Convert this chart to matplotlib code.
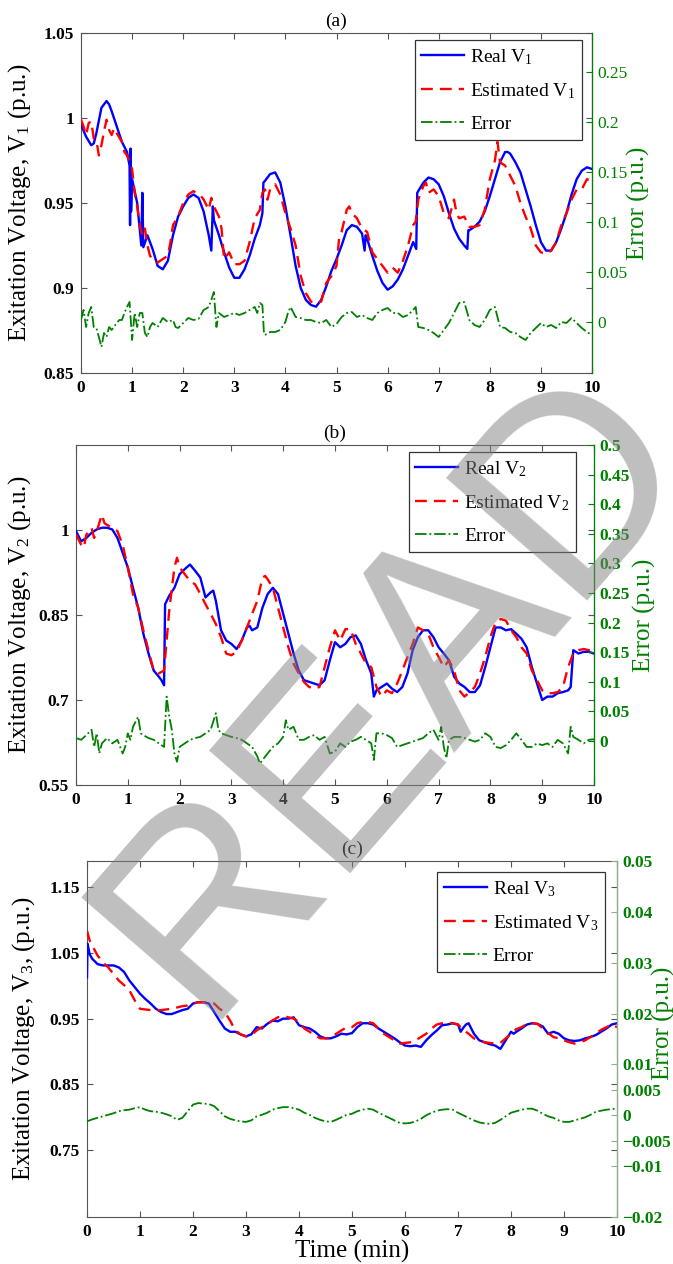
import numpy as np
import matplotlib
matplotlib.use('Agg')
import matplotlib.pyplot as plt
from matplotlib.ticker import FixedLocator, FixedFormatter

plt.rcParams['font.family'] = ['Liberation Serif', 'DejaVu Serif']
plt.rcParams['mathtext.fontset'] = 'custom'
plt.rcParams['mathtext.rm'] = 'Liberation Serif'
plt.rcParams['mathtext.it'] = 'Liberation Serif:italic'
plt.rcParams['mathtext.bf'] = 'Liberation Serif:bold'
plt.rcParams['mathtext.default'] = 'regular'

# ---------------- Panel (a) ----------------
t_real1 = [0, 0.1, 0.2, 0.25, 0.3, 0.4, 0.5, 0.55, 0.6, 0.7,
           0.8, 0.9, 0.95, 0.96, 0.97, 0.98, 1.0, 1.1, 1.18, 1.2,
           1.22, 1.3, 1.4, 1.5, 1.6, 1.7, 1.8, 1.9, 2.0, 2.1,
           2.2, 2.3, 2.4, 2.5, 2.55, 2.58, 2.6, 2.7, 2.8, 2.9,
           3.0, 3.1, 3.2, 3.3, 3.4, 3.5, 3.55, 3.57, 3.6, 3.7,
           3.8, 3.9, 4.0, 4.1, 4.2, 4.3, 4.4, 4.5, 4.6, 4.7,
           4.8, 4.9, 5.0, 5.1, 5.2, 5.3, 5.4, 5.5, 5.55, 5.57,
           5.6, 5.7, 5.8, 5.9, 6.0, 6.1, 6.2, 6.3, 6.4, 6.5,
           6.56, 6.58, 6.6, 6.7, 6.8, 6.9, 7.0, 7.1, 7.2, 7.3,
           7.4, 7.5, 7.56, 7.58, 7.6, 7.7, 7.8, 7.9, 8.0, 8.1,
           8.2, 8.3, 8.35, 8.4, 8.5, 8.6, 8.7, 8.8, 8.9, 9.0,
           9.1, 9.2, 9.3, 9.4, 9.5, 9.6, 9.7, 9.8, 9.9, 10.0]
v_real1 = [0.996, 0.989, 0.984, 0.985, 0.991, 1.006, 1.010, 1.008, 1.004, 0.995,
           0.986, 0.980, 0.972, 0.937, 0.982, 0.945, 0.964, 0.950, 0.925, 0.956,
           0.924, 0.931, 0.923, 0.913, 0.911, 0.916, 0.931, 0.942, 0.948, 0.953,
           0.955, 0.953, 0.945, 0.931, 0.922, 0.948, 0.940, 0.931, 0.921, 0.912,
           0.906, 0.906, 0.911, 0.919, 0.929, 0.937, 0.944, 0.962, 0.963, 0.967,
           0.968, 0.962, 0.948, 0.931, 0.913, 0.900, 0.893, 0.890, 0.889, 0.893,
           0.901, 0.910, 0.917, 0.925, 0.934, 0.937, 0.936, 0.932, 0.922, 0.931,
           0.929, 0.919, 0.910, 0.903, 0.899, 0.901, 0.905, 0.911, 0.919, 0.927,
           0.923, 0.956, 0.957, 0.962, 0.965, 0.964, 0.961, 0.954, 0.944, 0.935,
           0.929, 0.925, 0.923, 0.934, 0.934, 0.936, 0.939, 0.945, 0.954, 0.964,
           0.974, 0.980, 0.980, 0.979, 0.974, 0.968, 0.958, 0.948, 0.937, 0.927,
           0.922, 0.922, 0.927, 0.935, 0.944, 0.955, 0.964, 0.969, 0.971, 0.970]

t_est1 = [0, 0.05, 0.1, 0.15, 0.2, 0.25, 0.3, 0.35, 0.4, 0.45,
          0.5, 0.55, 0.6, 0.65, 0.7, 0.8, 0.85, 0.9, 1.0, 1.05,
          1.1, 1.15, 1.2, 1.25, 1.3, 1.35, 1.4, 1.5, 1.6, 1.7,
          1.75, 1.8, 1.9, 2.0, 2.1, 2.2, 2.3, 2.35, 2.4, 2.5,
          2.55, 2.6, 2.7, 2.75, 2.8, 2.9, 3.0, 3.1, 3.2, 3.3,
          3.4, 3.5, 3.55, 3.6, 3.65, 3.7, 3.8, 3.9, 4.0, 4.1,
          4.2, 4.3, 4.4, 4.5, 4.6, 4.7, 4.8, 4.9, 5.0, 5.05,
          5.1, 5.2, 5.25, 5.3, 5.4, 5.5, 5.6, 5.7, 5.8, 5.9,
          6.0, 6.1, 6.2, 6.3, 6.4, 6.5, 6.55, 6.6, 6.7, 6.75,
          6.8, 6.9, 7.0, 7.1, 7.2, 7.3, 7.35, 7.4, 7.5, 7.6,
          7.7, 7.8, 7.9, 8.0, 8.1, 8.15, 8.2, 8.3, 8.4, 8.5,
          8.6, 8.7, 8.8, 8.9, 9.0, 9.1, 9.2, 9.3, 9.4, 9.5,
          9.6, 9.7, 9.8, 9.9, 10.0]
v_est1 = [0.999, 0.995, 0.990, 0.997, 0.998, 0.988, 0.987, 0.978, 0.984, 0.992,
          0.999, 0.993, 0.990, 0.994, 0.991, 0.986, 0.980, 0.978, 0.970, 0.956,
          0.948, 0.937, 0.931, 0.935, 0.925, 0.919, 0.917, 0.915, 0.917, 0.919,
          0.927, 0.937, 0.942, 0.950, 0.955, 0.957, 0.955, 0.954, 0.952, 0.946,
          0.953, 0.948, 0.942, 0.935, 0.917, 0.921, 0.914, 0.914, 0.916, 0.927,
          0.941, 0.946, 0.956, 0.958, 0.952, 0.958, 0.961, 0.955, 0.944, 0.935,
          0.925, 0.907, 0.897, 0.892, 0.891, 0.892, 0.903, 0.907, 0.913, 0.929,
          0.933, 0.946, 0.948, 0.944, 0.941, 0.935, 0.933, 0.921, 0.917, 0.913,
          0.909, 0.912, 0.909, 0.916, 0.925, 0.937, 0.939, 0.952, 0.960, 0.962,
          0.956, 0.958, 0.954, 0.944, 0.941, 0.952, 0.944, 0.941, 0.942, 0.936,
          0.936, 0.937, 0.946, 0.964, 0.975, 0.986, 0.974, 0.972, 0.966, 0.960,
          0.950, 0.942, 0.935, 0.925, 0.921, 0.920, 0.922, 0.927, 0.937, 0.944,
          0.952, 0.958, 0.958, 0.964, 0.963]

t_err1 = [0, 0.05, 0.1, 0.15, 0.2, 0.25, 0.3, 0.35, 0.4, 0.45,
          0.5, 0.55, 0.6, 0.7, 0.75, 0.8, 0.85, 0.9, 0.95, 1.0,
          1.05, 1.1, 1.15, 1.2, 1.25, 1.3, 1.35, 1.4, 1.5, 1.6,
          1.7, 1.8, 1.85, 1.9, 2.0, 2.1, 2.2, 2.3, 2.4, 2.5,
          2.55, 2.6, 2.65, 2.7, 2.8, 2.9, 3.0, 3.1, 3.2, 3.3,
          3.4, 3.45, 3.5, 3.55, 3.58, 3.6, 3.7, 3.8, 3.9, 4.0,
          4.05, 4.1, 4.2, 4.3, 4.4, 4.5, 4.6, 4.7, 4.8, 4.9,
          5.0, 5.1, 5.2, 5.3, 5.4, 5.5, 5.6, 5.7, 5.8, 5.9,
          6.0, 6.1, 6.2, 6.3, 6.4, 6.5, 6.55, 6.6, 6.7, 6.8,
          6.9, 7.0, 7.1, 7.2, 7.3, 7.4, 7.5, 7.6, 7.7, 7.8,
          7.9, 8.0, 8.1, 8.2, 8.3, 8.4, 8.5, 8.6, 8.7, 8.8,
          8.9, 9.0, 9.1, 9.2, 9.3, 9.4, 9.5, 9.6, 9.7, 9.8,
          9.9, 10.0]
v_err1 = [0.002, 0.012, -0.005, 0.009, 0.015, -0.005, -0.006, -0.015, -0.025, -0.011,
          -0.015, -0.005, -0.008, -0.001, 0.002, 0.002, 0.009, 0.015, 0.020, -0.018,
          0.009, -0.005, 0.009, 0.009, -0.011, -0.015, -0.005, -0.001, -0.005, 0.004,
          0.000, 0.002, -0.005, -0.006, -0.001, 0.004, 0.002, 0.003, 0.012, 0.015,
          0.022, 0.030, -0.005, 0.009, 0.005, 0.007, 0.009, 0.007, 0.009, 0.012,
          0.015, 0.009, 0.019, 0.017, -0.011, -0.013, -0.010, -0.010, -0.008, 0.000,
          0.009, 0.015, 0.005, 0.004, 0.002, 0.002, 0.000, -0.001, 0.002, -0.005,
          -0.002, 0.005, 0.009, 0.010, 0.005, 0.007, 0.004, 0.002, 0.009, 0.012,
          0.014, 0.009, 0.009, 0.005, 0.007, 0.012, 0.015, -0.005, -0.006, -0.008,
          -0.011, -0.015, -0.008, -0.001, 0.009, 0.019, 0.020, 0.002, -0.003, -0.005,
          0.002, 0.012, 0.015, -0.005, -0.006, -0.010, -0.011, -0.015, -0.018, -0.011,
          -0.006, -0.001, -0.005, -0.003, -0.006, 0.000, -0.001, 0.004, -0.001, -0.006,
          -0.010, -0.013]

# ---------------- Panel (b) ----------------
t_real2 = [0, 0.1, 0.2, 0.3, 0.4, 0.5, 0.6, 0.7, 0.8, 0.9,
           1.0, 1.1, 1.2, 1.3, 1.4, 1.5, 1.6, 1.65, 1.7, 1.72,
           1.8, 1.9, 2.0, 2.1, 2.2, 2.3, 2.4, 2.5, 2.6, 2.65,
           2.7, 2.8, 2.9, 3.0, 3.1, 3.2, 3.3, 3.35, 3.4, 3.5,
           3.6, 3.7, 3.8, 3.9, 4.0, 4.1, 4.2, 4.3, 4.4, 4.5,
           4.6, 4.7, 4.8, 4.9, 5.0, 5.1, 5.2, 5.3, 5.4, 5.5,
           5.6, 5.7, 5.75, 5.8, 5.9, 6.0, 6.1, 6.2, 6.3, 6.4,
           6.5, 6.6, 6.7, 6.8, 6.9, 7.0, 7.1, 7.2, 7.3, 7.4,
           7.5, 7.6, 7.7, 7.8, 7.9, 8.0, 8.1, 8.2, 8.3, 8.4,
           8.5, 8.6, 8.7, 8.8, 8.9, 9.0, 9.1, 9.2, 9.3, 9.4,
           9.5, 9.55, 9.6, 9.7, 9.8, 9.9, 10.0]
v_real2 = [0.998, 0.980, 0.986, 0.995, 1.001, 1.004, 1.004, 1.001, 0.986, 0.960,
           0.934, 0.898, 0.863, 0.817, 0.782, 0.752, 0.741, 0.735, 0.726, 0.869,
           0.884, 0.898, 0.922, 0.931, 0.939, 0.928, 0.916, 0.881, 0.890, 0.893,
           0.875, 0.823, 0.805, 0.799, 0.790, 0.805, 0.828, 0.831, 0.823, 0.828,
           0.863, 0.887, 0.898, 0.887, 0.852, 0.817, 0.782, 0.752, 0.735, 0.732,
           0.729, 0.726, 0.735, 0.770, 0.802, 0.793, 0.799, 0.811, 0.814, 0.799,
           0.770, 0.747, 0.706, 0.717, 0.723, 0.729, 0.720, 0.714, 0.723, 0.747,
           0.788, 0.811, 0.823, 0.823, 0.811, 0.793, 0.782, 0.770, 0.741, 0.729,
           0.723, 0.714, 0.714, 0.726, 0.758, 0.793, 0.828, 0.828, 0.823, 0.825,
           0.817, 0.808, 0.793, 0.758, 0.729, 0.700, 0.706, 0.706, 0.712, 0.714,
           0.717, 0.723, 0.788, 0.782, 0.785, 0.785, 0.782]

t_est2 = [0, 0.1, 0.15, 0.2, 0.3, 0.35, 0.4, 0.5, 0.55, 0.6,
          0.7, 0.8, 0.9, 1.0, 1.1, 1.2, 1.3, 1.4, 1.5, 1.6,
          1.7, 1.75, 1.8, 1.9, 1.95, 2.0, 2.1, 2.2, 2.3, 2.4,
          2.5, 2.6, 2.7, 2.8, 2.9, 3.0, 3.1, 3.2, 3.3, 3.4,
          3.5, 3.6, 3.65, 3.7, 3.8, 3.9, 4.0, 4.1, 4.2, 4.3,
          4.4, 4.5, 4.6, 4.7, 4.8, 4.9, 5.0, 5.1, 5.2, 5.3,
          5.4, 5.5, 5.6, 5.7, 5.8, 5.9, 6.0, 6.1, 6.2, 6.3,
          6.4, 6.5, 6.6, 6.7, 6.8, 6.9, 7.0, 7.1, 7.2, 7.3,
          7.4, 7.5, 7.6, 7.7, 7.8, 7.9, 8.0, 8.1, 8.2, 8.3,
          8.4, 8.5, 8.6, 8.7, 8.8, 8.9, 9.0, 9.1, 9.2, 9.3,
          9.4, 9.5, 9.6, 9.7, 9.8, 9.9, 10.0]
v_est2 = [0.992, 0.974, 0.969, 0.992, 1.004, 0.986, 0.998, 1.027, 1.012, 1.009,
          1.004, 0.998, 0.974, 0.934, 0.887, 0.863, 0.823, 0.787, 0.752, 0.747,
          0.752, 0.805, 0.858, 0.934, 0.951, 0.934, 0.922, 0.910, 0.904, 0.887,
          0.869, 0.852, 0.834, 0.811, 0.782, 0.779, 0.785, 0.805, 0.828, 0.852,
          0.875, 0.916, 0.919, 0.913, 0.898, 0.863, 0.828, 0.793, 0.764, 0.747,
          0.732, 0.723, 0.720, 0.723, 0.758, 0.793, 0.823, 0.805, 0.825, 0.825,
          0.799, 0.782, 0.764, 0.758, 0.723, 0.706, 0.717, 0.712, 0.729, 0.752,
          0.776, 0.799, 0.828, 0.823, 0.817, 0.793, 0.776, 0.758, 0.770, 0.752,
          0.717, 0.706, 0.714, 0.723, 0.747, 0.776, 0.811, 0.837, 0.843, 0.840,
          0.823, 0.811, 0.793, 0.782, 0.752, 0.735, 0.717, 0.712, 0.712, 0.714,
          0.723, 0.758, 0.782, 0.788, 0.790, 0.788, 0.785]

t_err2 = [0, 0.1, 0.2, 0.3, 0.35, 0.4, 0.45, 0.5, 0.6, 0.7,
          0.8, 0.9, 0.95, 1.0, 1.05, 1.1, 1.2, 1.25, 1.3, 1.4,
          1.5, 1.6, 1.7, 1.75, 1.8, 1.85, 1.9, 1.95, 2.0, 2.1,
          2.2, 2.3, 2.4, 2.5, 2.6, 2.7, 2.75, 2.8, 2.9, 3.0,
          3.1, 3.2, 3.3, 3.4, 3.5, 3.55, 3.6, 3.7, 3.8, 3.9,
          4.0, 4.05, 4.1, 4.2, 4.3, 4.4, 4.5, 4.6, 4.7, 4.8,
          4.9, 5.0, 5.1, 5.2, 5.3, 5.4, 5.5, 5.6, 5.7, 5.75,
          5.8, 5.9, 6.0, 6.1, 6.2, 6.3, 6.4, 6.5, 6.6, 6.7,
          6.8, 6.9, 7.0, 7.05, 7.1, 7.15, 7.2, 7.3, 7.4, 7.5,
          7.6, 7.7, 7.8, 7.9, 8.0, 8.1, 8.2, 8.3, 8.4, 8.5,
          8.6, 8.7, 8.8, 8.9, 9.0, 9.1, 9.2, 9.3, 9.4, 9.5,
          9.55, 9.6, 9.7, 9.8, 9.9, 10.0]
v_err2 = [0.005, 0.002, 0.010, 0.019, -0.010, 0.013, -0.021, -0.004, 0.005, -0.004,
          0.002, -0.021, -0.010, 0.013, 0.002, 0.024, 0.041, 0.013, 0.010, 0.005,
          0.002, -0.004, -0.010, 0.075, 0.041, 0.019, -0.021, -0.035, -0.010, -0.004,
          0.002, 0.005, 0.007, 0.013, 0.019, 0.047, 0.019, 0.013, 0.010, 0.007,
          0.005, 0.002, -0.004, -0.010, -0.026, -0.038, -0.032, -0.021, -0.010, -0.004,
          0.007, 0.035, 0.019, 0.024, 0.002, 0.002, 0.007, 0.010, 0.002, 0.007,
          -0.021, -0.018, -0.004, -0.010, -0.001, 0.002, 0.007, 0.002, -0.004, -0.032,
          0.013, 0.013, 0.010, 0.005, -0.010, -0.007, -0.004, -0.001, 0.002, 0.005,
          0.013, 0.019, 0.002, 0.024, -0.010, -0.029, 0.002, 0.007, 0.007, 0.005,
          0.002, -0.001, 0.002, 0.013, 0.007, -0.010, -0.012, -0.007, 0.002, 0.013,
          0.002, -0.010, -0.010, -0.004, -0.007, -0.004, -0.010, 0.002, -0.004, -0.021,
          0.024, 0.007, 0.002, -0.004, 0.002, 0.003]

# ---------------- Panel (c) ----------------
t_real3 = [0, 0.01, 0.05, 0.1, 0.2, 0.3, 0.4, 0.5, 0.6, 0.7,
           0.8, 0.9, 1.0, 1.1, 1.2, 1.3, 1.4, 1.5, 1.6, 1.7,
           1.8, 1.9, 2.0, 2.1, 2.2, 2.3, 2.4, 2.5, 2.6, 2.7,
           2.8, 2.9, 3.0, 3.1, 3.2, 3.3, 3.4, 3.5, 3.6, 3.7,
           3.8, 3.9, 4.0, 4.1, 4.2, 4.3, 4.4, 4.5, 4.6, 4.7,
           4.8, 4.9, 5.0, 5.1, 5.2, 5.3, 5.4, 5.5, 5.6, 5.7,
           5.8, 5.9, 6.0, 6.1, 6.2, 6.3, 6.4, 6.5, 6.6, 6.7,
           6.8, 6.9, 7.0, 7.05, 7.1, 7.15, 7.2, 7.3, 7.4, 7.5,
           7.6, 7.7, 7.8, 7.9, 8.0, 8.05, 8.1, 8.2, 8.3, 8.4,
           8.5, 8.6, 8.7, 8.8, 8.9, 9.0, 9.1, 9.2, 9.3, 9.4,
           9.5, 9.6, 9.7, 9.8, 9.9, 10.0]
v_real3 = [1.013, 1.064, 1.048, 1.041, 1.033, 1.031, 1.031, 1.031, 1.028, 1.021,
           1.008, 0.998, 0.988, 0.980, 0.973, 0.965, 0.960, 0.957, 0.957, 0.960,
           0.963, 0.965, 0.973, 0.975, 0.975, 0.973, 0.960, 0.947, 0.935, 0.930,
           0.930, 0.926, 0.923, 0.926, 0.937, 0.935, 0.942, 0.947, 0.946, 0.950,
           0.950, 0.952, 0.940, 0.937, 0.935, 0.930, 0.923, 0.920, 0.920, 0.923,
           0.927, 0.926, 0.928, 0.937, 0.943, 0.943, 0.941, 0.935, 0.930, 0.925,
           0.920, 0.914, 0.909, 0.908, 0.909, 0.907, 0.917, 0.925, 0.932, 0.940,
           0.941, 0.943, 0.941, 0.930, 0.936, 0.941, 0.943, 0.927, 0.917, 0.914,
           0.911, 0.909, 0.904, 0.917, 0.930, 0.927, 0.930, 0.935, 0.941, 0.943,
           0.942, 0.938, 0.927, 0.930, 0.927, 0.920, 0.917, 0.916, 0.917, 0.920,
           0.922, 0.925, 0.930, 0.935, 0.941, 0.943]

t_est3 = [0, 0.05, 0.1, 0.2, 0.3, 0.4, 0.5, 0.6, 0.7, 0.8,
          0.9, 1.0, 1.1, 1.2, 1.3, 1.4, 1.5, 1.6, 1.7, 1.8,
          1.9, 2.0, 2.1, 2.2, 2.3, 2.4, 2.5, 2.6, 2.7, 2.8,
          2.9, 3.0, 3.1, 3.2, 3.3, 3.4, 3.5, 3.6, 3.7, 3.8,
          3.9, 4.0, 4.1, 4.2, 4.3, 4.4, 4.5, 4.6, 4.7, 4.8,
          4.9, 5.0, 5.1, 5.2, 5.3, 5.4, 5.5, 5.6, 5.7, 5.8,
          5.9, 6.0, 6.1, 6.2, 6.3, 6.4, 6.5, 6.6, 6.7, 6.8,
          6.9, 7.0, 7.1, 7.2, 7.3, 7.4, 7.5, 7.6, 7.7, 7.8,
          7.9, 8.0, 8.1, 8.2, 8.3, 8.4, 8.5, 8.6, 8.7, 8.8,
          8.9, 9.0, 9.1, 9.2, 9.3, 9.4, 9.5, 9.6, 9.7, 9.8,
          9.9, 10.0]
v_est3 = [1.084, 1.069, 1.061, 1.046, 1.036, 1.028, 1.018, 1.008, 1.001, 0.993,
          0.978, 0.965, 0.964, 0.963, 0.963, 0.963, 0.964, 0.965, 0.967, 0.969,
          0.970, 0.973, 0.975, 0.975, 0.975, 0.973, 0.965, 0.960, 0.947, 0.932,
          0.926, 0.923, 0.925, 0.932, 0.937, 0.942, 0.947, 0.952, 0.954, 0.952,
          0.950, 0.945, 0.935, 0.930, 0.925, 0.920, 0.920, 0.921, 0.927, 0.932,
          0.937, 0.937, 0.943, 0.945, 0.945, 0.943, 0.935, 0.927, 0.922, 0.917,
          0.912, 0.913, 0.914, 0.917, 0.922, 0.927, 0.935, 0.941, 0.943, 0.944,
          0.943, 0.941, 0.933, 0.927, 0.920, 0.917, 0.914, 0.913, 0.912, 0.913,
          0.920, 0.927, 0.934, 0.937, 0.942, 0.943, 0.942, 0.935, 0.928, 0.922,
          0.920, 0.917, 0.914, 0.912, 0.914, 0.917, 0.922, 0.927, 0.933, 0.937,
          0.941, 0.937]

t_err3 = [0, 0.1, 0.2, 0.3, 0.4, 0.5, 0.6, 0.7, 0.8, 0.9,
          1.0, 1.1, 1.2, 1.3, 1.4, 1.5, 1.6, 1.7, 1.8, 1.9,
          2.0, 2.1, 2.2, 2.3, 2.4, 2.5, 2.6, 2.7, 2.8, 2.9,
          3.0, 3.1, 3.2, 3.3, 3.4, 3.5, 3.6, 3.7, 3.8, 3.9,
          4.0, 4.1, 4.2, 4.3, 4.4, 4.5, 4.6, 4.7, 4.8, 4.9,
          5.0, 5.1, 5.2, 5.3, 5.4, 5.5, 5.6, 5.7, 5.8, 5.9,
          6.0, 6.1, 6.2, 6.3, 6.4, 6.5, 6.6, 6.7, 6.8, 6.9,
          7.0, 7.1, 7.2, 7.3, 7.4, 7.5, 7.6, 7.7, 7.8, 7.9,
          8.0, 8.1, 8.2, 8.3, 8.4, 8.5, 8.6, 8.7, 8.8, 8.9,
          9.0, 9.1, 9.2, 9.3, 9.4, 9.5, 9.6, 9.7, 9.8, 9.9,
          10.0]
v_err3 = [-0.0012, -0.0008, -0.0005, -0.0002, 0.0001, 0.0004, 0.0008, 0.0010, 0.0011, 0.0014,
          0.0016, 0.0011, 0.0008, 0.0007, 0.0005, 0.0002, -0.0002, -0.0009, -0.0005, 0.0008,
          0.0021, 0.0024, 0.0023, 0.0022, 0.0018, 0.0008, -0.0002, -0.0007, -0.0010, -0.0012,
          -0.0013, -0.0010, -0.0002, 0.0001, 0.0005, 0.0011, 0.0014, 0.0016, 0.0016, 0.0014,
          0.0011, 0.0005, 0.0001, -0.0005, -0.0009, -0.0012, -0.0013, -0.0009, -0.0004, 0.0001,
          0.0003, 0.0008, 0.0011, 0.0013, 0.0011, 0.0005, 0.0000, -0.0005, -0.0010, -0.0015,
          -0.0016, -0.0015, -0.0012, -0.0007, 0.0000, 0.0005, 0.0009, 0.0011, 0.0012, 0.0011,
          0.0005, 0.0000, -0.0005, -0.0010, -0.0014, -0.0016, -0.0017, -0.0015, -0.0009, -0.0002,
          0.0005, 0.0008, 0.0011, 0.0013, 0.0013, 0.0009, 0.0003, -0.0002, -0.0005, -0.0010,
          -0.0013, -0.0013, -0.0010, -0.0007, -0.0004, 0.0001, 0.0007, 0.0009, 0.0011, 0.0012,
          0.0014]

# ---------------- Axis ticks / labels ----------------
x_ticks = [0, 1, 2, 3, 4, 5, 6, 7, 8, 9, 10]
x_ticklabels = ['0', '1', '2', '3', '4', '5', '6', '7', '8', '9', '10']

yl_ticks1 = [0.85, 0.9, 0.95, 1.0, 1.05]
yl_labels1 = ['0.85', '0.9', '0.95', '1', '1.05']
yr_ticks1 = [0, 0.05, 0.1, 0.15, 0.2, 0.25]
yr_labels1 = ['0', '0.05', '0.1', '0.15', '0.2', '0.25']

yl_ticks2 = [0.55, 0.7, 0.85, 1.0]
yl_labels2 = ['0.55', '0.7', '0.85', '1']
yr_ticks2 = [0, 0.05, 0.1, 0.15, 0.2, 0.25, 0.3, 0.35, 0.4, 0.45, 0.5]
yr_labels2 = ['0', '0.05', '0.1', '0.15', '0.2', '0.25', '0.3', '0.35', '0.4', '0.45', '0.5']

yl_ticks3 = [0.75, 0.85, 0.95, 1.05, 1.15]
yl_labels3 = ['0.75', '0.85', '0.95', '1.05', '1.15']
yr_ticks3 = [-0.02, -0.01, -0.005, 0, 0.005, 0.01, 0.02, 0.03, 0.04, 0.05]
yr_labels3 = ['\u22120.02', '\u22120.01', '\u22120.005', '0', '0.005', '0.01', '0.02', '0.03', '0.04', '0.05']

legend1 = ['Real V$_1$', 'Estimated V$_1$', 'Error']
legend2 = ['Real V$_2$', 'Estimated V$_2$', 'Error']
legend3 = ['Real V$_3$', 'Estimated V$_3$', 'Error']

GREEN = '#008000'
FRAME = '#555555'

fig = plt.figure(figsize=(6.73, 12.64), dpi=100)
W, H = 673.0, 1264.0


def px_rect(x0, y0, x1, y1):
    return [x0 / W, 1 - y1 / H, (x1 - x0) / W, (y1 - y0) / H]


def panel(rect, tr, vr, te, ve, tx, vx, ylim_l, ytl, ylabl, ylim_r, ytr, ylabr,
          ylabel, leg_labels, title, right_bold, rspine, leg_anchor,
          ylab_x, rlab_xy, xlabel=None):
    ax = fig.add_axes(rect)
    ax2 = ax.twinx()
    l1, = ax.plot(tr, vr, color='#0000ff', lw=1.7, zorder=3)
    l2, = ax.plot(te, ve, color='#ff0000', lw=1.7, ls=(0, (5, 3)), zorder=4)
    l3, = ax2.plot(tx, vx, color=GREEN, lw=1.3, ls='-.')
    ax.set_xlim(0, 10)
    ax.set_ylim(*ylim_l)
    ax2.set_ylim(*ylim_r)
    ax.xaxis.set_major_locator(FixedLocator(x_ticks))
    ax.xaxis.set_major_formatter(FixedFormatter(x_ticklabels))
    ax.yaxis.set_major_locator(FixedLocator(ytl))
    ax.yaxis.set_major_formatter(FixedFormatter(ylabl))
    ax2.yaxis.set_major_locator(FixedLocator(ytr))
    ax2.yaxis.set_major_formatter(FixedFormatter(ylabr))
    ax.tick_params(axis='both', direction='in', length=4, width=0.8, color=FRAME,
                   top=True, right=True, labelsize=12.5, pad=5)
    for lab in ax.get_xticklabels() + ax.get_yticklabels():
        lab.set_fontweight('bold')
    ax2.tick_params(axis='y', direction='in', length=4, width=0.8, color=rspine,
                    labelcolor=GREEN, labelsize=12.5, pad=4)
    for lab in ax2.get_yticklabels():
        lab.set_fontweight('bold' if right_bold else 'normal')
    for s in ax.spines.values():
        s.set_color(FRAME)
        s.set_linewidth(0.8)
    for k in ('left', 'top', 'bottom'):
        ax2.spines[k].set_visible(False)
    ax2.spines['right'].set_color(rspine)
    ax2.spines['right'].set_linewidth(0.9)
    ax.set_ylabel(ylabel, fontsize=18)
    ax.yaxis.set_label_coords(ylab_x, 0.5)
    ax2.set_ylabel('Error (p.u.)', fontsize=18, color=GREEN)
    ax2.yaxis.set_label_coords(*rlab_xy)
    ax.set_title(title, fontsize=14, pad=5)
    if xlabel:
        ax.set_xlabel(xlabel, fontsize=18, labelpad=0)
    leg = ax2.legend([l1, l2, l3], leg_labels, loc='upper right',
                     bbox_to_anchor=leg_anchor, bbox_transform=fig.transFigure,
                     fancybox=False, edgecolor='#333333', framealpha=1,
                     fontsize=14, handlelength=2.2, borderpad=0.35,
                     labelspacing=0.75, handletextpad=0.3, borderaxespad=0)
    leg.get_frame().set_linewidth(0.9)
    return ax, ax2


panel(px_rect(81, 33, 592, 373), t_real1, v_real1, t_est1, v_est1, t_err1, v_err1,
      (0.85, 1.05), yl_ticks1, yl_labels1, (-0.051, 0.289), yr_ticks1, yr_labels1,
      'Exitation Voltage, V$_1$ (p.u.)', legend1, '(a)', False, GREEN,
      (582 / W, 1 - 40 / H), (33 - 81) / 511, ((627 - 81) / 511, 0.5))

panel(px_rect(76, 445, 594, 785), t_real2, v_real2, t_est2, v_est2, t_err2, v_err2,
      (0.55, 1.15), yl_ticks2, yl_labels2, (-0.0743, 0.5), yr_ticks2, yr_labels2,
      'Exitation Voltage, V$_2$ (p.u.)', legend2, '(b)', True, GREEN,
      (576 / W, 1 - 452 / H), (33 - 76) / 518, ((633 - 76) / 518, 0.5))

panel(px_rect(87, 861, 617, 1217), t_real3, v_real3, t_est3, v_est3, t_err3, v_err3,
      (0.648, 1.19), yl_ticks3, yl_labels3, (-0.02, 0.05), yr_ticks3, yr_labels3,
      'Exitation Voltage, V$_3$, (p.u.)', legend3, '(c)', True, '#8fb08f',
      (605 / W, 1 - 872 / H), (37 - 87) / 530, ((652 - 87) / 530, 0.545),
      xlabel='Time (min)')

# watermark
fig.text(395 / W, 1 - 690 / H, 'READ', rotation=49, fontsize=195, color='#808080',
         alpha=0.5, ha='center', va='center', family='Liberation Sans',
         rotation_mode='anchor', zorder=10)

fig.savefig('out.png', dpi=100)
